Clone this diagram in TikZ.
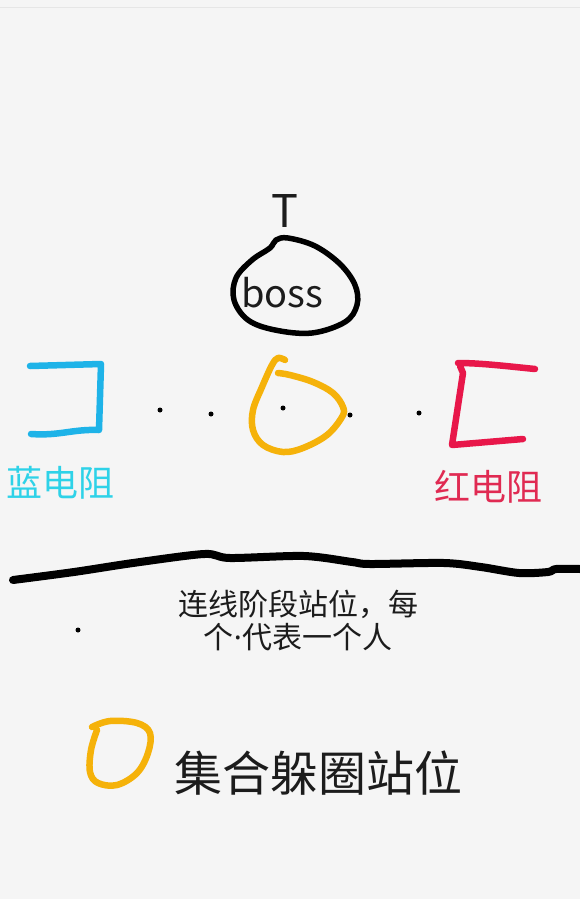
\documentclass[tikz,border=0pt]{standalone}
\usepackage{fontspec}
\setmainfont{Noto Sans CJK SC}
\newfontfamily\latinfont{Noto Sans}
\usetikzlibrary{positioning}
\definecolor{paper}{HTML}{F5F5F5}
\definecolor{rule}{HTML}{E6E6E6}
\definecolor{bluepen}{HTML}{1EB3E8}
\definecolor{bluetext}{HTML}{2ED2E8}
\definecolor{redpen}{HTML}{E8174A}
\definecolor{redtext}{HTML}{E02A52}
\definecolor{yellowpen}{HTML}{F5B20A}
\definecolor{ink}{HTML}{1C1C1C}

\begin{document}
\begin{tikzpicture}[x=1pt,y=-1pt,line cap=round,line join=round,
  pen/.style={line width=6.5pt},
  person/.style={circle,fill=black,inner sep=0pt,minimum size=5pt},
  tag/.style={font=\fontsize{36}{36}\selectfont}]
  \fill[paper] (0,0) rectangle (580,899);
  \useasboundingbox (0,0) rectangle (580,899);
  \draw[rule,line width=1pt] (0,7.5) -- (580,7.5);

  % boss
  \node[font=\fontsize{45}{45}\selectfont,text=ink] (T) at (285,211) {T};
  \node[anchor=base west,font=\fontsize{38}{38}\selectfont,text=ink,inner sep=0pt] (boss) at (241,307) {boss};
  \draw[line width=5.5pt,black] plot[smooth cycle,tension=0.6] coordinates {
    (270,248) (276,240) (288,238) (315,246) (340,264) (355,285) (357,305)
    (345,322) (312,333) (275,330) (248,320) (234,300) (236,278) (252,260)};

  % resistors
  \draw[pen,bluepen] (30,366) -- (101,364) -- (99,430)
    .. controls (72,429) and (60,436) .. (31,434);
  \node[tag,text=bluetext] (blue) at (60,483) {蓝电阻};
  \draw[pen,redpen] (535,369) .. controls (505,366) and (480,363) .. (458,363)
    (460,366) -- (463,373) -- (452,445) -- (523,439);
  \node[tag,text=redtext] (red) at (488,487) {红电阻};

  % gathering spot
  \draw[pen,yellowpen] plot[smooth,tension=0.6] coordinates {
    (285,360) (278,358) (272,365) (262,387) (253,410) (253,430) (263,445)
    (283,452) (303,448) (327,435) (342,417) (343,407) (333,393) (313,382)
    (290,375) (278,373)};

  % people
  \node[person] (p1) at (160,410) {};
  \node[person] (p2) at (211,414) {};
  \node[person] (p3) at (283,408) {};
  \node[person] (p4) at (350,415) {};
  \node[person] (p5) at (419,413) {};

  % divider
  \draw[line width=8pt,black] plot[smooth,tension=0.5] coordinates {
    (13,580) (74,572) (133,563) (204,554) (230,558) (304,556) (352,562)
    (370,564) (444,563) (481,567) (519,573) (548,572) (556,569) (580,569)};

  % legend
  \node[person] (key1) at (78,630) {};
  \node[align=center,font=\fontsize{30}{33}\selectfont,text=ink] (keytext1) at (298,621)
    {连线阶段站位，每\\个{\latinfont ·}代表一个人};
  \draw[pen,yellowpen] plot[smooth,tension=0.6] coordinates {
    (92,727) (110,721) (137,723) (150,733) (148,753) (137,773) (117,785)
    (98,783) (90,772) (91,750) (97,730)};
  \node[font=\fontsize{48}{48}\selectfont,text=ink] (keytext2) at (318,773) {集合躲圈站位};
\end{tikzpicture}
\end{document}
